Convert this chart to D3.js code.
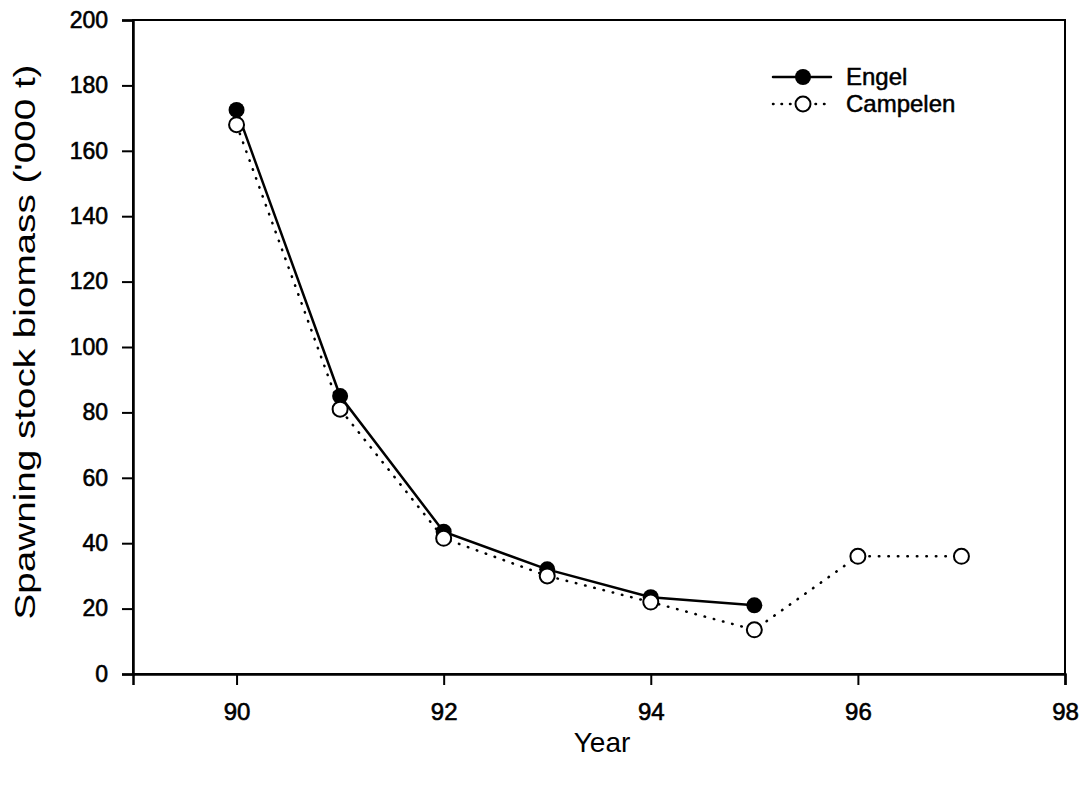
<!DOCTYPE html>
<html>
<head>
<meta charset="utf-8">
<script src="https://cdn.jsdelivr.net/npm/d3@7"></script>
<style>
  body { margin: 0; background: #fff; }
  text { font-family: "Liberation Sans", Arial, sans-serif; fill: #000; }
</style>
</head>
<body>
<div id="chart"></div>
<script>
// données
const years = [90, 91, 92, 93, 94, 95, 96, 97];
const engel = [172.5, 85, 43.5, 32, 23.5, 21];
const campelen = [168, 81, 41.5, 30, 22, 13.5, 36, 36];
const xTicks = [90, 92, 94, 96, 98];
const yTicks = [0, 20, 40, 60, 80, 100, 120, 140, 160, 180, 200];
const seriesNames = ["Engel", "Campelen"];

const width = 1086;
const height = 785;
const margin = { top: 20, right: 21, bottom: 111, left: 133 };
const innerWidth = width - margin.left - margin.right;
const innerHeight = height - margin.top - margin.bottom;

const svg = d3.select("#chart").append("svg")
  .attr("width", width)
  .attr("height", height);

const g = svg.append("g")
  .attr("transform", `translate(${margin.left},${margin.top})`);

// Échelles
const x = d3.scaleLinear().domain([89, 98]).range([0, innerWidth]);
const y = d3.scaleLinear().domain([0, 200]).range([innerHeight, 0]);

// Cadre
g.append("rect")
  .attr("width", innerWidth)
  .attr("height", innerHeight)
  .attr("fill", "none")
  .attr("stroke", "#000")
  .attr("stroke-width", 2);

// Axe Y
const yAxis = g.append("g")
  .call(d3.axisLeft(y).tickValues(yTicks).tickSize(11).tickPadding(14));
yAxis.select(".domain").attr("stroke-width", 2.5);
yAxis.selectAll(".tick line").attr("stroke-width", 2);
yAxis.selectAll("text")
  .attr("font-size", 23)
  .attr("stroke", "#000").attr("stroke-width", 0.6);

// Axe X
const xAxis = g.append("g")
  .attr("transform", `translate(0,${innerHeight})`)
  .call(d3.axisBottom(x).tickValues(xTicks).tickSize(11).tickPadding(18));
xAxis.select(".domain").attr("stroke-width", 2.5);
xAxis.selectAll(".tick line").attr("stroke-width", 2);
xAxis.selectAll("text")
  .attr("font-size", 24)
  .attr("stroke", "#000").attr("stroke-width", 0.6);

// Titres des axes
svg.append("text")
  .attr("transform", `translate(35,342) rotate(-90)`)
  .attr("text-anchor", "middle")
  .attr("font-size", 29)
  .attr("textLength", 555)
  .attr("lengthAdjust", "spacingAndGlyphs")
  .text("Spawning stock biomass ('000 t)");

svg.append("text")
  .attr("x", 602)
  .attr("y", 752)
  .attr("text-anchor", "middle")
  .attr("font-size", 28)
  .text("Year");

// Lignes
const engelPts = engel.map((v, i) => [years[i], v]);
const campPts = campelen.map((v, i) => [years[i], v]);
const line = d3.line().x(d => x(d[0])).y(d => y(d[1]));

g.append("path")
  .datum(campPts)
  .attr("d", line)
  .attr("fill", "none")
  .attr("stroke", "#000")
  .attr("stroke-width", 2.5)
  .attr("stroke-linecap", "round")
  .attr("stroke-dasharray", "0.5 9");

g.append("path")
  .datum(engelPts)
  .attr("d", line)
  .attr("fill", "none")
  .attr("stroke", "#000")
  .attr("stroke-width", 2.5);

// Points
g.selectAll(".engel")
  .data(engelPts)
  .enter().append("circle")
  .attr("cx", d => x(d[0]))
  .attr("cy", d => y(d[1]))
  .attr("r", 8)
  .attr("fill", "#000");

g.selectAll(".camp")
  .data(campPts)
  .enter().append("circle")
  .attr("cx", d => x(d[0]))
  .attr("cy", d => y(d[1]))
  .attr("r", 7.5)
  .attr("fill", "#fff")
  .attr("stroke", "#000")
  .attr("stroke-width", 2);

// Légende
const legend = svg.append("g").attr("transform", "translate(773,77)");
seriesNames.forEach((name, i) => {
  const row = legend.append("g").attr("transform", `translate(0,${i * 27})`);
  row.append("line")
    .attr("x1", 0).attr("x2", 58)
    .attr("stroke", "#000")
    .attr("stroke-width", 2.5)
    .attr("stroke-linecap", "round")
    .attr("stroke-dasharray", i === 0 ? null : "0.5 8");
  row.append("circle")
    .attr("cx", 30)
    .attr("r", i === 0 ? 8 : 7.5)
    .attr("fill", i === 0 ? "#000" : "#fff")
    .attr("stroke", "#000")
    .attr("stroke-width", i === 0 ? 0 : 2);
  row.append("text")
    .attr("x", 73)
    .attr("dy", "0.35em")
    .attr("font-size", 24)
    .attr("stroke", "#000").attr("stroke-width", 0.5)
    .text(name);
});
</script>
</body>
</html>
